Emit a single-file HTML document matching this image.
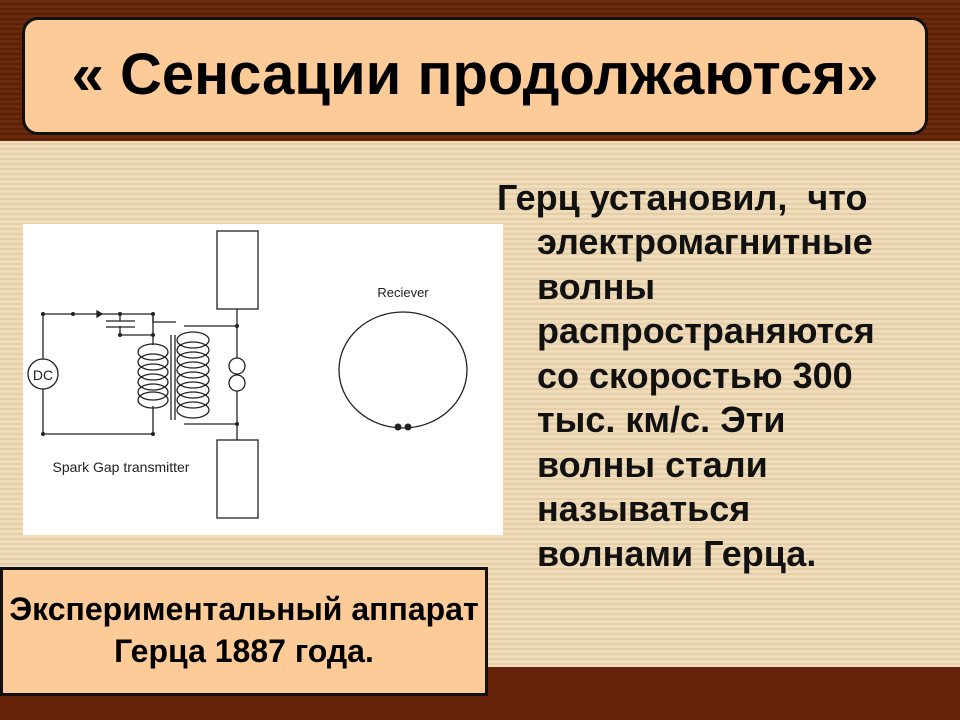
<!DOCTYPE html>
<html><head><meta charset="utf-8"><style>
body{margin:0;width:960px;height:720px;overflow:hidden;position:relative;font-family:"Liberation Sans",sans-serif;
background:repeating-linear-gradient(#efdcbb 0 3px,#e6cfa8 3px 5px);}
.top{position:absolute;left:0;top:0;width:960px;height:141px;background:repeating-linear-gradient(#6b2a0c 0 3px,#5a2008 3px 5px);}
.bot{position:absolute;left:0;top:667px;width:960px;height:53px;background:#652208;}
.title{position:absolute;left:22px;top:17px;width:906px;height:118px;background:#fdcb98;border:3px solid #111;border-radius:16px;box-sizing:border-box;
text-align:center;line-height:110px;font-weight:bold;font-size:58px;color:#000;}
.img{position:absolute;left:23px;top:224px;width:480px;height:311px;background:#fff;}
.t{position:absolute;font-weight:bold;font-size:36px;color:#111;white-space:nowrap;}
.cap{position:absolute;left:0;top:567px;width:488px;height:129px;background:#fdcb98;border:3px solid #111;box-sizing:border-box;text-align:center;font-weight:bold;font-size:32px;line-height:42px;padding-top:18px;white-space:nowrap;}
</style></head><body>
<div class="top"></div><div class="bot"></div>
<div class="title">« Сенсации продолжаются»</div>
<div class="img">
<svg width="480" height="311" viewBox="23 224 480 311" xmlns="http://www.w3.org/2000/svg" fill="none" stroke="#222" stroke-width="1.3">
<rect x="217" y="231" width="41" height="78"/>
<rect x="217" y="440" width="41" height="78"/>
<line x1="237" y1="309" x2="237" y2="358"/><line x1="237" y1="391" x2="237" y2="440"/>
<circle cx="237" cy="366" r="8"/><circle cx="237" cy="383" r="8"/>
<circle cx="43" cy="374" r="15"/>
<text x="43" y="380" font-family="Liberation Sans Narrow,Liberation Sans,sans-serif" font-size="14" fill="#222" stroke="none" text-anchor="middle">DC</text>
<polyline points="43,359 43,314 153,314 153,335 120,335 120,326"/>
<polyline points="43,389 43,434 153,434 153,406"/>
<line x1="106" y1="321" x2="135" y2="321"/><line x1="106" y1="327" x2="135" y2="327"/>
<line x1="120" y1="314" x2="120" y2="321"/>
<polygon points="97,311 97,317 102,314" fill="#222"/>
<polyline points="153,314 153,322 176,322"/>
<polyline points="153,335 153,345"/>
<line x1="171" y1="335" x2="171" y2="420"/><line x1="175" y1="335" x2="175" y2="420"/>
<g>
<ellipse cx="153" cy="352" rx="15" ry="8"/><ellipse cx="153" cy="362" rx="15" ry="8"/><ellipse cx="153" cy="372" rx="15" ry="8"/><ellipse cx="153" cy="382" rx="15" ry="8"/><ellipse cx="153" cy="392" rx="15" ry="8"/><ellipse cx="153" cy="400" rx="15" ry="8"/>
</g>
<g>
<ellipse cx="193" cy="340" rx="16" ry="8"/><ellipse cx="193" cy="350" rx="16" ry="8"/><ellipse cx="193" cy="360" rx="16" ry="8"/><ellipse cx="193" cy="370" rx="16" ry="8"/><ellipse cx="193" cy="380" rx="16" ry="8"/><ellipse cx="193" cy="390" rx="16" ry="8"/><ellipse cx="193" cy="400" rx="16" ry="8"/><ellipse cx="193" cy="410" rx="16" ry="8"/>
</g>
<polyline points="184,326 237,326"/><polyline points="184,424 237,424"/>
<g fill="#222" stroke="none"><circle cx="43" cy="314" r="2"/><circle cx="73" cy="314" r="2"/><circle cx="120" cy="314" r="2"/><circle cx="153" cy="314" r="2"/><circle cx="120" cy="335" r="2"/><circle cx="153" cy="335" r="2"/><circle cx="43" cy="434" r="2"/><circle cx="153" cy="434" r="2"/><circle cx="237" cy="326" r="2"/><circle cx="237" cy="424" r="2"/><circle cx="398" cy="427" r="3.5"/><circle cx="408" cy="427" r="3.5"/></g>
<ellipse cx="403" cy="370" rx="64" ry="58"/>
<text x="403" y="297" font-family="Liberation Sans Narrow,Liberation Sans,sans-serif" font-size="13" fill="#222" stroke="none" text-anchor="middle">Reciever</text>
<text x="121" y="472" font-family="Liberation Sans Narrow,Liberation Sans,sans-serif" font-size="14" fill="#222" stroke="none" text-anchor="middle">Spark Gap transmitter</text>
</svg></div>
<div class="t" style="left:497px;top:177px">Герц установил,&nbsp; что</div>
<div class="t" style="left:537px;top:221px">электромагнитные</div>
<div class="t" style="left:537px;top:266px">волны</div>
<div class="t" style="left:537px;top:310px">распространяются</div>
<div class="t" style="left:537px;top:355px">со скоростью 300</div>
<div class="t" style="left:537px;top:399px">тыс. км/с. Эти</div>
<div class="t" style="left:537px;top:444px">волны стали</div>
<div class="t" style="left:537px;top:488px">называться</div>
<div class="t" style="left:537px;top:533px">волнами Герца.</div>
<div class="cap">Экспериментальный аппарат<br>Герца 1887 года.</div>
</body></html>
